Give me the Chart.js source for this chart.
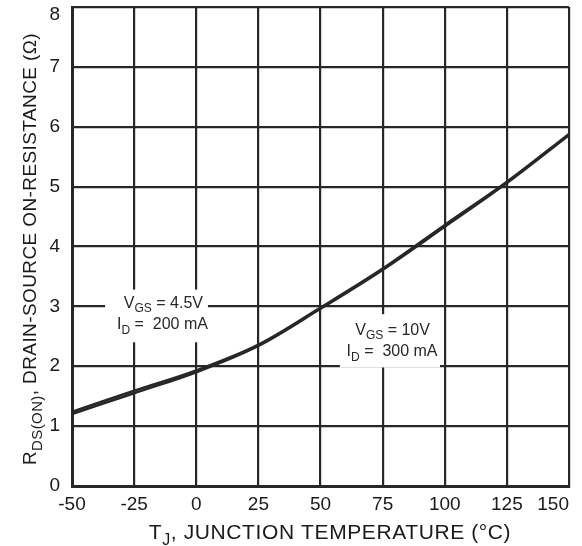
<!DOCTYPE html>
<html>
<head>
<meta charset="utf-8">
<script src="https://cdn.jsdelivr.net/npm/chart.js@4.4.1/dist/chart.umd.min.js"></script>
<style>
  html, body { margin: 0; padding: 0; background: #fff; }
  #wrap { width: 582px; height: 546px; position: relative; }
</style>
</head>
<body>
<div id="wrap"><canvas id="chart" width="582" height="546"></canvas></div>
<script>
// Dados do gráfico
const temps = [-50, -25, 0, 25, 50, 75, 100, 125, 150];
const rdsVgs45 = [1.24, 1.59, 1.93, 2.36, 2.98, 3.63, 4.36, 5.08, 5.88];
const rdsVgs10 = [1.20, 1.55, 1.90, 2.34, 2.96, 3.61, 4.33, 5.06, 5.86];
const xTicks = [-50, -25, 0, 25, 50, 75, 100, 125, 150];
const yTicks = [0, 1, 2, 3, 4, 5, 6, 7, 8];

const ink = '#262828';
const font = '"Liberation Sans", Arial, sans-serif';

function toPoints(values) {
    return temps.map((t, i) => ({ x: t, y: values[i] }));
}

// Texto com subscrito: partes [texto, subscrito?]
function drawParts(ctx, parts, x, y, size, align, spacing) {
    const subSize = Math.round(size * 0.78);
    ctx.letterSpacing = (spacing || 0) + 'px';
    let total = 0;
    parts.forEach(p => {
        ctx.font = (p[1] ? subSize : size) + 'px ' + font;
        total += ctx.measureText(p[0]).width;
    });
    let cx = align === 'center' ? x - total / 2 : x;
    ctx.textAlign = 'left';
    ctx.textBaseline = 'alphabetic';
    parts.forEach(p => {
        ctx.font = (p[1] ? subSize : size) + 'px ' + font;
        ctx.fillText(p[0], cx, p[1] ? y + size * 0.3 : y);
        cx += ctx.measureText(p[0]).width;
    });
    ctx.letterSpacing = '0px';
    return total;
}

// Caixa branca em coordenadas de dados
function whiteBox(ctx, xs, ys, x0, x1, y0, y1) {
    const l = xs.getPixelForValue(x0), r = xs.getPixelForValue(x1);
    const t = ys.getPixelForValue(y0), b = ys.getPixelForValue(y1);
    ctx.fillStyle = '#fff';
    ctx.fillRect(l, t, r - l, b - t);
}

// Rótulos das pontas: 150 à direita, 8 abaixo da borda
const edgeTickPlugin = {
    id: 'edgeTicks',
    beforeDraw(chart) {
        const xItems = chart.scales.x.getLabelItems();
        const lastX = xItems[xItems.length - 1];
        if (lastX) {
            lastX.options.textAlign = 'right';
            lastX.options.translation[0] = chart.chartArea.right;
        }
        const yItems = chart.scales.y.getLabelItems();
        const topY = yItems[yItems.length - 1];
        if (topY) {
            topY.options.textBaseline = 'top';
            topY.options.translation[1] = chart.chartArea.top - 2;
        }
    }
};

// Caixas de anotação e títulos dos eixos
const annotationPlugin = {
    id: 'annotations',
    afterDatasetsDraw(chart) {
        const ctx = chart.ctx;
        const xs = chart.scales.x;
        const ys = chart.scales.y;
        ctx.save();

        // caixa VGS = 4.5V
        whiteBox(ctx, xs, ys, -36.7, 4.7, 3.28, 2.4);
        ctx.fillStyle = ink;
        drawParts(ctx, [['V'], ['GS', true], [' = 4.5V']], xs.getPixelForValue(-13.2), ys.getPixelForValue(2.98), 16, 'center');
        drawParts(ctx, [['I'], ['D', true], [' =  200 mA']], xs.getPixelForValue(-13.6), ys.getPixelForValue(2.62), 16, 'center');

        // caixa VGS = 10V
        whiteBox(ctx, xs, ys, 57.8, 98.1, 2.87, 1.98);
        ctx.fillStyle = ink;
        drawParts(ctx, [['V'], ['GS', true], [' = 10V']], xs.getPixelForValue(79), ys.getPixelForValue(2.53), 16, 'center');
        drawParts(ctx, [['I'], ['D', true], [' =  300 mA']], xs.getPixelForValue(78.8), ys.getPixelForValue(2.17), 16, 'center');

        // título eixo X
        ctx.fillStyle = '#1a1a1a';
        drawParts(ctx, [['T'], ['J', true], [', JUNCTION TEMPERATURE (°C)']], 330, 539, 21, 'center', 0.6);

        // título eixo Y (rotacionado)
        ctx.translate(36, 249);
        ctx.rotate(-Math.PI / 2);
        drawParts(ctx, [['R'], ['DS(ON)', true], [', DRAIN-SOURCE ON-RESISTANCE (Ω)']], 0, 0, 19, 'center', 0.4);
        ctx.restore();
    }
};

const chart = new Chart(document.getElementById('chart'), {
    type: 'line',
    data: {
        datasets: [
            {
                label: 'VGS = 4.5V',
                data: toPoints(rdsVgs45),
                borderColor: ink,
                borderWidth: 2.5,
                pointRadius: 0,
                cubicInterpolationMode: 'monotone',
                fill: false
            },
            {
                label: 'VGS = 10V',
                data: toPoints(rdsVgs10),
                borderColor: ink,
                borderWidth: 2.5,
                pointRadius: 0,
                cubicInterpolationMode: 'monotone',
                fill: false
            }
        ]
    },
    options: {
        responsive: false,
        animation: false,
        devicePixelRatio: 1,
        layout: { padding: { left: 0, top: 7, right: 13, bottom: 0 } },
        plugins: {
            legend: { display: false },
            tooltip: { enabled: false }
        },
        scales: {
            x: {
                type: 'linear',
                min: -50,
                max: 150,
                afterBuildTicks: function(scale) {
                    scale.ticks = xTicks.map(v => ({ value: v }));
                },
                afterFit: function(scale) {
                    scale.height = 60;
                    scale.paddingRight = 0;
                },
                grid: { color: ink, lineWidth: 2.2, drawTicks: false },
                border: { color: ink, width: 3 },
                ticks: {
                    color: '#1a1a1a',
                    font: { family: font, size: 19 },
                    padding: 7,
                    maxRotation: 0
                }
            },
            y: {
                min: 0,
                max: 8,
                afterBuildTicks: function(scale) {
                    scale.ticks = yTicks.map(v => ({ value: v }));
                },
                afterFit: function(scale) {
                    scale.width = 72;
                    scale.paddingTop = 0;
                    scale.paddingBottom = 0;
                },
                grid: { color: ink, lineWidth: 2.2, drawTicks: false },
                border: { color: ink, width: 3 },
                ticks: {
                    color: '#1a1a1a',
                    font: { family: font, size: 19 },
                    padding: 12
                }
            }
        }
    },
    plugins: [edgeTickPlugin, annotationPlugin]
});
</script>
</body>
</html>
